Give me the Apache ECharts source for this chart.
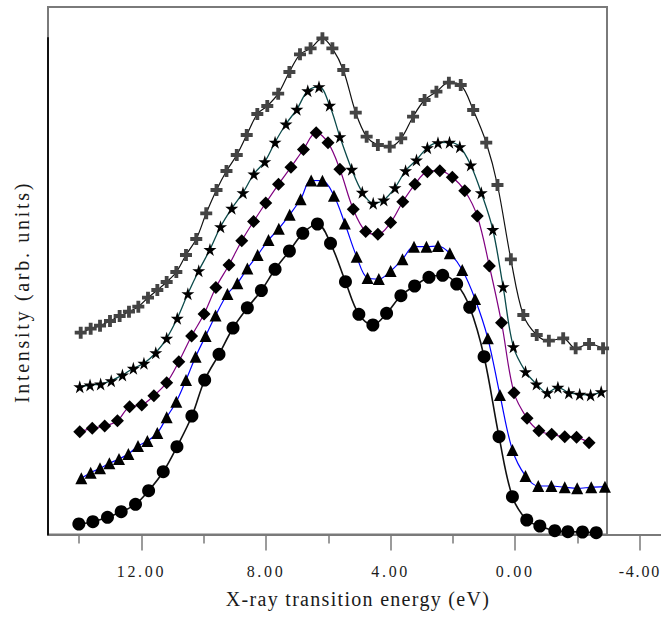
<!DOCTYPE html>
<html>
<head>
<meta charset="utf-8">
<script src="https://cdn.jsdelivr.net/npm/echarts@6/dist/echarts.min.js"></script>
<style>
  html, body { margin: 0; padding: 0; background: #fff; }
  #chart { width: 661px; height: 618px; }
</style>
</head>
<body>
<div id="chart"></div>
<script>
// energies in eV, intensities in arbitrary (offset) units
var circleX = [14.01, 13.56, 13.09, 12.65, 12.19, 11.77, 11.30, 10.86, 10.38, 9.97, 9.51, 9.06, 8.60, 8.15, 7.71, 7.25, 6.82, 6.35, 5.93, 5.45, 5.02, 4.57, 4.13, 3.67, 3.23, 2.77, 2.33, 1.88, 1.46, 1.00, 0.52, 0.09, -0.37, -0.79, -1.27, -1.69, -2.16, -2.60];
var circleY = [10.5, 12.8, 17.2, 22.8, 30.2, 43.8, 62.8, 87.8, 118.5, 154.5, 180.2, 206.5, 226.7, 244, 265.2, 283.5, 301.2, 310.5, 291.2, 252.8, 220.2, 209.5, 221.2, 238.8, 248.5, 257.2, 259.2, 250.5, 227.2, 177.8, 97.8, 37.8, 14.5, 8.5, 3.8, 2.8, 2.5, 1.8];

var triX = [13.93, 13.63, 13.33, 13.03, 12.72, 12.42, 12.11, 11.81, 11.49, 11.19, 10.88, 10.57, 10.26, 9.94, 9.62, 9.24, 8.92, 8.60, 8.27, 7.92, 7.59, 7.24, 6.89, 6.55, 6.19, 5.82, 5.47, 5.09, 4.74, 4.38, 4.00, 3.62, 3.25, 2.85, 2.48, 2.10, 1.70, 1.29, 0.88, 0.49, 0.09, -0.33, -0.74, -1.16, -1.59, -1.99, -2.44, -2.88];
var triY = [56.2, 61.8, 66.2, 71.2, 75.5, 80.5, 88.5, 93.5, 101.5, 117.2, 132.8, 154.5, 177.8, 198.5, 219, 240.5, 251.2, 266, 279.5, 294.5, 305.8, 319.8, 335.2, 354, 353.8, 338.8, 311, 277.8, 256.5, 255.5, 263.5, 275.2, 287.8, 287.8, 288.5, 281.2, 264.5, 235.5, 196.2, 139.5, 84.5, 58.5, 48.5, 48.5, 47.2, 46.2, 47.2, 47.8];

var diaX = [13.98, 13.58, 13.18, 12.77, 12.38, 11.99, 11.60, 11.19, 10.80, 10.39, 9.99, 9.61, 9.19, 8.78, 8.40, 8.01, 7.60, 7.20, 6.80, 6.39, 6.01, 5.63, 5.20, 4.80, 4.41, 4.00, 3.61, 3.22, 2.82, 2.42, 2.02, 1.62, 1.22, 0.83, 0.44, 0.04, -0.38, -0.76, -1.17, -1.59, -1.97, -2.37];
var diaY = [102.8, 106.2, 108.5, 113.8, 127.8, 129.5, 138.8, 151.8, 172.8, 198.5, 220.5, 247, 269.5, 293.8, 313, 331.5, 350.2, 367.3, 385, 401.8, 391.8, 365.2, 325.2, 303, 300.2, 312, 332.8, 350.2, 362.8, 363.8, 357.2, 343.8, 318.5, 268.5, 211.8, 141.8, 116.2, 103.8, 100.2, 97.8, 97.2, 91.8];

var starX = [13.98, 13.65, 13.31, 12.97, 12.61, 12.26, 11.92, 11.54, 11.19, 10.85, 10.51, 10.16, 9.80, 9.46, 9.10, 8.74, 8.39, 8.04, 7.71, 7.36, 7.01, 6.66, 6.30, 5.96, 5.63, 5.25, 4.91, 4.56, 4.22, 3.86, 3.52, 3.17, 2.82, 2.48, 2.11, 1.78, 1.43, 1.09, 0.72, 0.39, 0.06, -0.33, -0.68, -1.03, -1.37, -1.72, -2.07, -2.42, -2.76];
var starY = [147.8, 149.5, 150.5, 153.8, 159.5, 166.2, 171.2, 181.8, 196.2, 216.2, 240.8, 263.8, 285, 307.8, 326.2, 341.8, 360.5, 372.8, 392.3, 410.5, 425.2, 443.7, 447.8, 429.2, 397.8, 365.2, 342.2, 331.2, 334.5, 346.8, 363.8, 374.5, 386.8, 391.8, 392.2, 387.8, 369.5, 341.8, 305, 247.8, 187.8, 162.8, 150.5, 141.8, 147.2, 141.8, 140.2, 139.5, 142.8];

var crossX = [13.95, 13.63, 13.33, 13.01, 12.70, 12.40, 12.10, 11.79, 11.49, 11.19, 10.88, 10.57, 10.24, 9.92, 9.59, 9.27, 8.94, 8.62, 8.28, 7.96, 7.61, 7.25, 6.91, 6.57, 6.19, 5.87, 5.52, 5.12, 4.77, 4.41, 4.03, 3.66, 3.28, 2.91, 2.53, 2.13, 1.75, 1.35, 0.93, 0.57, 0.14, -0.26, -0.69, -1.08, -1.54, -1.94, -2.37, -2.82];
var crossY = [201.8, 205.8, 208.8, 213.5, 218.5, 222.8, 227.8, 236.8, 244.5, 252.5, 262.5, 279.5, 295.5, 321.2, 344.5, 363.5, 379.5, 399.5, 420.5, 428.5, 440.8, 462.5, 480.2, 486.2, 496.2, 486.2, 464.5, 421.8, 397.8, 389.5, 387.8, 396.2, 417.8, 434.5, 442.8, 451.8, 449.5, 424.5, 391.8, 349.5, 275.2, 219.5, 199.5, 193.8, 196.2, 186.2, 190.5, 186.2];

var majorTicks = [12, 8, 4, 0, -4];
var minorTicks = [14, 10, 6, 2, -2];

var STAR = 'path://M50,0 L61,35 L98,35 L68,57 L79,91 L50,70 L21,91 L32,57 L2,35 L39,35 Z';
var PLUS = 'path://M34,0 H66 V34 H100 V66 H66 V100 H34 V66 H0 V34 H34 Z';

function pairs(xs, ys) {
  return xs.map(function (x, i) { return [x, ys[i]]; });
}

var serifFont = "'Liberation Serif', 'Times New Roman', serif";

var myChart = echarts.init(document.getElementById('chart'), null, {renderer: 'svg'});

function line(name, xs, ys, symbol, size, lineColor, markColor, width) {
  return {
    name: name,
    type: 'line',
    xAxisIndex: 0,
    yAxisIndex: 0,
    data: pairs(xs, ys),
    smooth: 0.35,
    clip: false,
    symbol: symbol,
    symbolSize: size,
    showAllSymbol: true,
    lineStyle: {color: lineColor, width: width},
    itemStyle: {color: markColor, borderWidth: 0},
    z: 3
  };
}

myChart.setOption({
  animation: false,
  grid: [
    {left: 48, right: 0, top: 38, bottom: 83.5},
    {left: 48, right: 54, top: 7, bottom: 83.5, show: true, borderColor: '#7a7a7a', borderWidth: 2, z: 0}
  ],
  xAxis: [
    {
      type: 'value', gridIndex: 0, min: -4.68, max: 15, inverse: true, position: 'bottom',
      axisLine: {show: true, onZero: false, lineStyle: {color: '#7a7a7a', width: 2}},
      axisTick: {show: true, length: 9, customValues: minorTicks, lineStyle: {color: '#7a7a7a', width: 1.5}},
      axisLabel: {show: false},
      splitLine: {show: false}
    },
    {
      type: 'value', gridIndex: 0, min: -4.68, max: 15, inverse: true, position: 'bottom',
      axisLine: {show: false, onZero: false},
      axisTick: {show: true, length: 16, customValues: majorTicks, lineStyle: {color: '#7a7a7a', width: 1.5}},
      axisLabel: {
        show: true, customValues: majorTicks, margin: 29,
        color: '#1a1a1a', fontFamily: serifFont, fontSize: 16,
        formatter: function (v) { return v.toFixed(2); }
      },
      splitLine: {show: false}
    },
    {type: 'value', gridIndex: 1, show: false}
  ],
  yAxis: [
    {
      type: 'value', gridIndex: 0, min: 0, max: 496.5, z: 5,
      axisLine: {show: true, onZero: false, lineStyle: {color: '#111', width: 2}},
      axisTick: {show: false},
      axisLabel: {show: false},
      splitLine: {show: false}
    },
    {type: 'value', gridIndex: 1, show: false}
  ],
  graphic: [
    {
      type: 'text', x: 22, y: 292, rotation: Math.PI / 2,
      style: {text: 'Intensity (arb. units)', fill: '#1a1a1a', fontSize: 20, fontFamily: serifFont, align: 'center', verticalAlign: 'middle'}
    },
    {
      type: 'text', x: 358, y: 599,
      style: {text: 'X-ray transition energy (eV)', fill: '#1a1a1a', fontSize: 20, fontFamily: serifFont, align: 'center', verticalAlign: 'middle'}
    }
  ],
  series: [
    line('circle', circleX, circleY, 'circle', 13, '#111', '#000', 1.6),
    line('triangle', triX, triY, 'triangle', 12, '#0000ff', '#000', 1.2),
    line('diamond', diaX, diaY, 'diamond', 13, '#800080', '#000', 1.2),
    line('star', starX, starY, STAR, 13, '#0b4a4a', '#000', 1.3),
    line('cross', crossX, crossY, PLUS, 12, '#111', '#444', 1.2)
  ]
});

// the original plot uses widely spaced lettering
document.querySelectorAll('#chart text').forEach(function (t) {
  var s = t.textContent;
  t.style.fontFamily = serifFont;
  if (s === 'Intensity (arb. units)') t.style.letterSpacing = '2.7px';
  else if (s === 'X-ray transition energy (eV)') t.style.letterSpacing = '1.3px';
  else if (s === '-4.00') t.style.letterSpacing = '1.8px';
  else t.style.letterSpacing = '2.7px';
});
</script>
</body>
</html>
